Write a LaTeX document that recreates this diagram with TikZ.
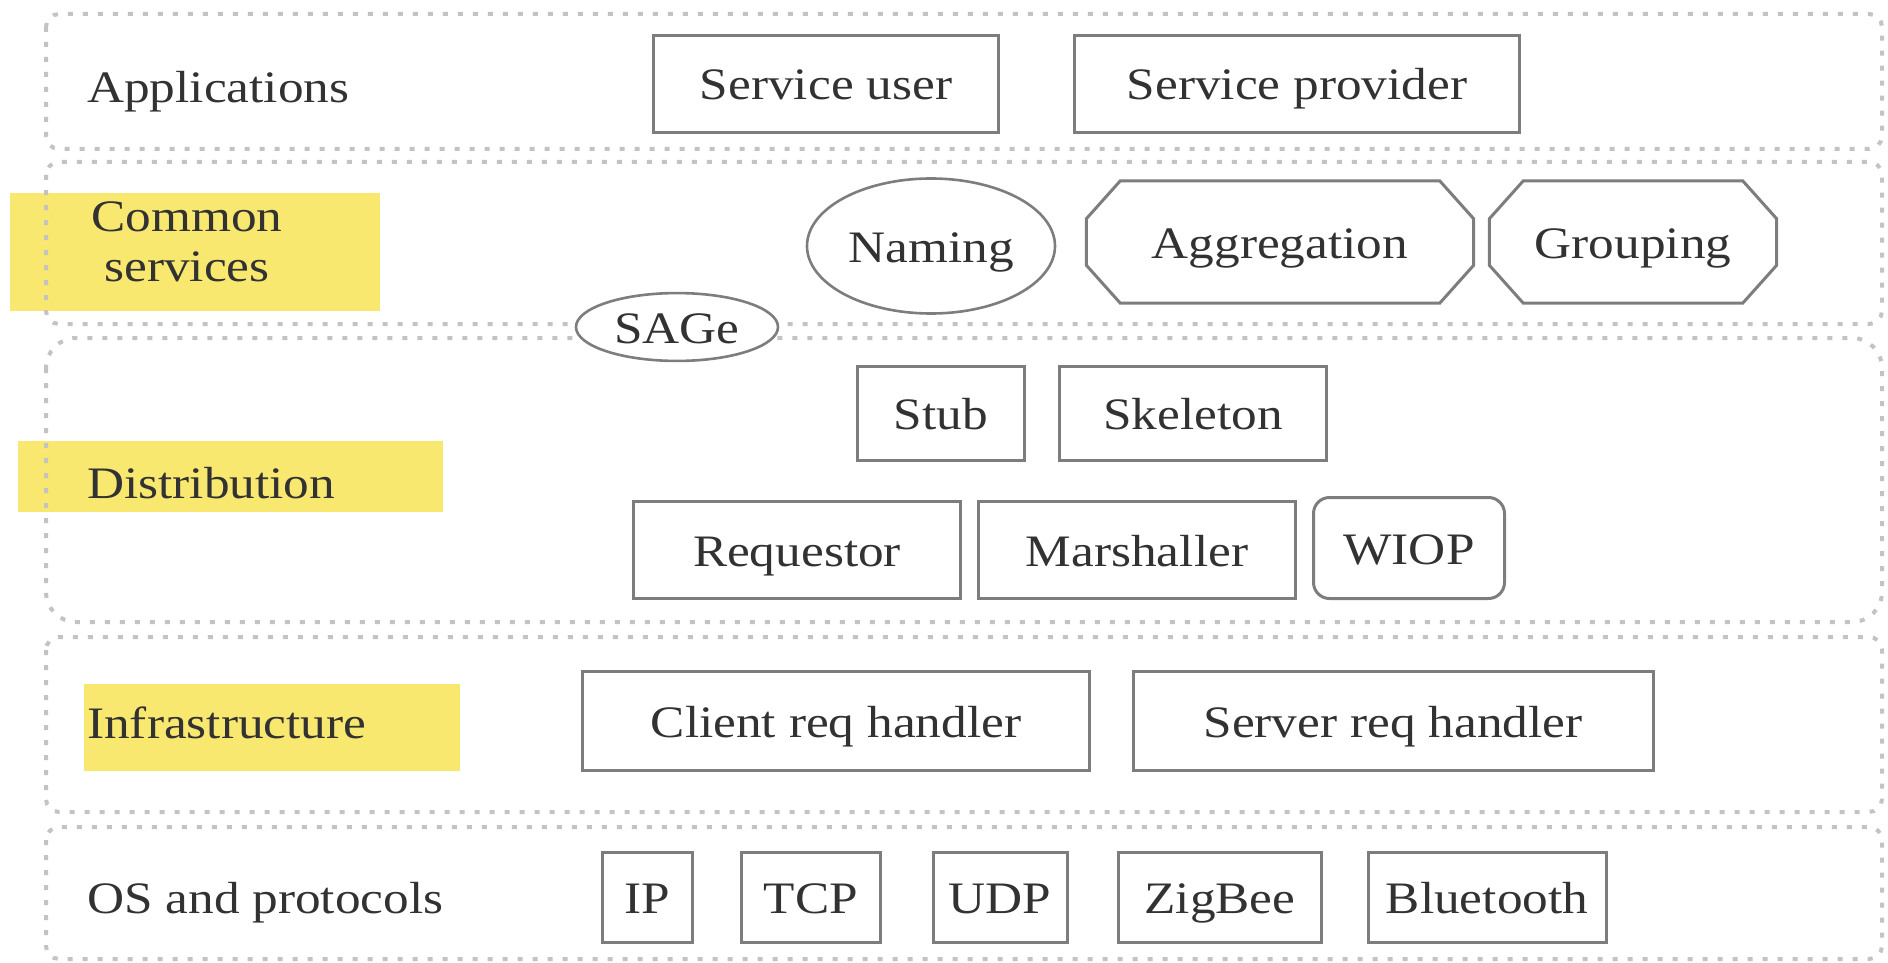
\documentclass[tikz,border=0pt]{standalone}
\usepackage{fontspec}
\setmainfont{Liberation Serif}
\usepackage{graphicx}
\usetikzlibrary{calc,shapes.geometric}
\definecolor{hlyellow}{RGB}{248,232,112}
\definecolor{boxgray}{RGB}{125,125,125}
\definecolor{dotgray}{RGB}{195,195,195}
\definecolor{txt}{RGB}{50,50,50}
\newcommand{\hs}[1]{\scalebox{1.14}[1]{#1}}
\begin{document}
\begin{tikzpicture}[x=1pt,y=-1pt,
  layer/.style={draw=dotgray, line width=4pt, dash pattern=on 5pt off 10pt, rounded corners=13pt},
  hl/.style={fill=hlyellow, draw=none},
  tx/.style={font=\fontsize{45}{50}\selectfont, text=txt, text height=40pt, text depth=8pt},
  lbl/.style={tx, inner sep=0pt, anchor=west},
  boxline/.style={draw=boxgray, line width=3pt},
  box/.style={boxline, tx, fill=white, inner sep=0pt, minimum height=97pt},
  ell/.style={draw=boxgray, line width=2.6pt, fill=white, ellipse, inner sep=0pt, tx},
  oct/.style={inner sep=0pt, minimum height=122pt, tx}
]
\useasboundingbox (0,0) rectangle (1888,963);
% highlights
\fill[hl] (10,193) rectangle (380,311);
\fill[hl] (18,441) rectangle (443,512);
\fill[hl] (84,684) rectangle (460,771);
% layers
\draw[layer] (46,14) rectangle (1882,149);
\draw[layer] (46,162) rectangle (1882,324);
\draw[layer, rounded corners=30pt] (46,338) rectangle (1882,622);
\draw[layer] (46,637) rectangle (1882,812);
\draw[layer] (46,827) rectangle (1882,959);
% labels
\node[lbl] (lapp) at (87,87) {\hs{Applications}};
\node[font=\fontsize{45}{50}\selectfont, text=txt, inner sep=0pt, align=center] (lcs) at (187,242) {\hs{Common}\\\hs{services}};
\node[lbl] (ldis) at (87,482) {\hs{Distribution}};
\node[lbl] (linf) at (87,722) {\hs{Infrastructure}};
\node[lbl] (los) at (87,897) {\hs{OS and protocols}};
% applications
\node[box, minimum width=345pt] (su) at (826,84) {\hs{Service user}};
\node[box, minimum width=445pt] (sp) at (1297,84) {\hs{Service provider}};
% common services
\node[ell, minimum width=248pt, minimum height=135pt] (nam) at (931,246) {\hs{Naming}};
\node[oct, minimum width=387pt] (agg) at (1280,242) {\hs{Aggregation}};
\node[oct, minimum width=287pt] (grp) at (1633,242) {\hs{Grouping}};
\foreach \n in {agg,grp}{
  \draw[boxline, line join=miter] ($(\n.north west)+(34,0)$) -- ($(\n.north east)+(-34,0)$)
    -- ($(\n.north east)+(0,38)$) -- ($(\n.south east)+(0,-38)$)
    -- ($(\n.south east)+(-34,0)$) -- ($(\n.south west)+(34,0)$)
    -- ($(\n.south west)+(0,-38)$) -- ($(\n.north west)+(0,38)$) -- cycle;
}
\node[ell, minimum width=202pt, minimum height=66pt] (sage) at (677,327) {\hs{SAGe}};
% distribution
\node[box, minimum width=167pt, minimum height=94pt] (stub) at (941,413) {\hs{Stub}};
\node[box, minimum width=267pt, minimum height=94pt] (skel) at (1193,413) {\hs{Skeleton}};
\node[box, minimum width=327pt] (req) at (797,550) {\hs{Requestor}};
\node[box, minimum width=317pt] (mar) at (1137,550) {\hs{Marshaller}};
\node[box, minimum width=191pt, minimum height=101pt, rounded corners=16pt] (wiop) at (1409,548) {\hs{WIOP}};
% infrastructure
\node[box, minimum width=507pt, minimum height=99pt] (crh) at (836,721) {\hs{Client req handler}};
\node[box, minimum width=520pt, minimum height=99pt] (srh) at (1393,721) {\hs{Server req handler}};
% OS and protocols
\node[box, minimum width=90pt, minimum height=90pt] (ip) at (647,897) {\hs{IP}};
\node[box, minimum width=139pt, minimum height=90pt] (tcp) at (811,897) {\hs{TCP}};
\node[box, minimum width=134pt, minimum height=90pt] (udp) at (1000,897) {\hs{UDP}};
\node[box, minimum width=203pt, minimum height=90pt] (zig) at (1220,897) {\hs{ZigBee}};
\node[box, minimum width=238pt, minimum height=90pt] (bt) at (1487,897) {\hs{Bluetooth}};
\end{tikzpicture}
\end{document}
